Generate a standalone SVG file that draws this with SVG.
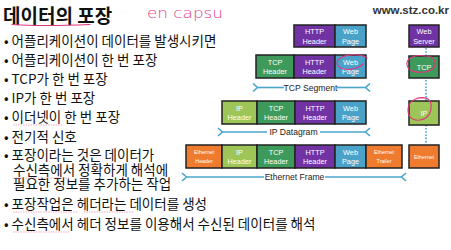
<svg xmlns="http://www.w3.org/2000/svg" width="451" height="250" viewBox="0 0 451 250">
<defs>
<style>
.k{font-family:"Noto Sans CJK KR","Noto Sans",sans-serif;font-size:13.5px;fill:#111}
.t{font-family:"Noto Sans CJK KR","Noto Sans",sans-serif;font-size:19px;font-weight:bold;fill:#111}
.b{stroke:#222;stroke-width:1.5}
.http{fill:#7132a4}.web{fill:#4aa2c9}.tcp{fill:#3e9a5b}.ip{fill:#9dc558}.eth{fill:#ee7b2e}
.bt{font-family:"Liberation Sans",Arial,sans-serif;font-size:7.3px;fill:#fff;text-anchor:middle}
.st{font-family:"Liberation Sans",Arial,sans-serif;font-size:5.3px;fill:#fff;text-anchor:middle}
.lbl{font-family:"Liberation Sans",Arial,sans-serif;font-size:8.6px;fill:#222;text-anchor:middle}
.ar{stroke:#4aa6cc;stroke-width:1.6;fill:none}
.pk{stroke:#e0357f;stroke-width:1.1;fill:none;stroke-linecap:round}
.sq{stroke:#e86a8a;stroke-width:0.7;fill:none;stroke-dasharray:1.5 1;opacity:0.8}
</style>
<marker id="ch" markerWidth="8" markerHeight="10" refX="1" refY="5" orient="auto-start-reverse" markerUnits="userSpaceOnUse">
<path d="M6,1 L1.5,5 L6,9" fill="none" stroke="#4aa6cc" stroke-width="1.6"/>
</marker>
</defs>
<rect width="451" height="250" fill="#fff"/>

<g id="title">
<text class="t" x="3" y="22.5">데이터의 포장</text>
<path class="pk" d="M12,24.5 C35,26 65,25.5 90,24.5"/>
<text x="147" y="18" font-family="DejaVu Sans,sans-serif" font-size="14" fill="#e0408a" textLength="76" lengthAdjust="spacingAndGlyphs" font-weight="300">en capsu</text>
<text x="449" y="14" text-anchor="end" font-family="Liberation Sans,Arial,sans-serif" font-size="11.5" font-weight="bold" fill="#333">www.stz.co.kr</text>
</g>

<g id="bullets">
<text class="k" x="4" y="46">• 어플리케이션이 데이터를 발생시키면</text>
<text class="k" x="4" y="65">• 어플리케이션이 한 번 포장</text>
<text class="k" x="4" y="84">• TCP가 한 번 포장</text>
<text class="k" x="4" y="103">• IP가 한 번 포장</text>
<text class="k" x="4" y="122">• 이더넷이 한 번 포장</text>
<text class="k" x="4" y="142">• 전기적 신호</text>
<text class="k" x="4" y="160">• 포장이라는 것은 데이터가<tspan x="13" y="175">수신측에서 정확하게 해석에</tspan><tspan x="13" y="189">필요한 정보를 추가하는 작업</tspan></text>
<text class="k" x="4" y="209">• 포장작업은 헤더라는 데이터를 생성</text>
<text class="k" x="4" y="229">• 수신측에서 헤더 정보를 이용해서 수신된 데이터를 해석</text>
<path class="sq" d="M13,125 H62 M13,178 H69 M13,212 H78 M84,212 H134 M13,232 H69"/>
</g>

<g id="row-app">
<rect class="b http" x="294" y="25" width="41" height="22"/>
<text class="bt" x="314.5" y="34">HTTP</text><text class="bt" x="314.5" y="43.5">Header</text>
<rect class="b web" x="335" y="25" width="31" height="22"/>
<text class="bt" x="350.5" y="34">Web</text><text class="bt" x="350.5" y="43.5">Page</text>
</g>

<g id="row-tcp">
<rect class="b tcp" x="256" y="55" width="38" height="23"/>
<text class="bt" x="275" y="64.5">TCP</text><text class="bt" x="275" y="74">Header</text>
<rect class="b http" x="294" y="55" width="41" height="23"/>
<text class="bt" x="314.5" y="64.5">HTTP</text><text class="bt" x="314.5" y="74">Header</text>
<rect class="b web" x="335" y="55" width="31" height="23"/>
<text class="bt" x="350.5" y="64.5">Web</text><text class="bt" x="350.5" y="74">Page</text>
<path class="pk" d="M367,58 C360,53 343,54 338,60 C334,66 342,71 352,69 C357,68 361,66 363,64"/>
</g>

<g id="row-ip">
<rect class="b ip" x="222" y="101" width="35" height="23"/>
<text class="bt" x="239.5" y="110.5">IP</text><text class="bt" x="239.5" y="120">Header</text>
<rect class="b tcp" x="257" y="101" width="38" height="23"/>
<text class="bt" x="276" y="110.5">TCP</text><text class="bt" x="276" y="120">Header</text>
<rect class="b http" x="295" y="101" width="40" height="23"/>
<text class="bt" x="315" y="110.5">HTTP</text><text class="bt" x="315" y="120">Header</text>
<rect class="b web" x="335" y="101" width="31" height="23"/>
<text class="bt" x="350.5" y="110.5">Web</text><text class="bt" x="350.5" y="120">Page</text>
</g>

<g id="row-eth">
<rect class="b eth" x="186" y="145" width="36" height="23"/>
<text class="st" x="204" y="154">Ethernet</text><text class="st" x="204" y="163">Header</text>
<rect class="b ip" x="222" y="145" width="35" height="23"/>
<text class="bt" x="239.5" y="154.5">IP</text><text class="bt" x="239.5" y="164">Header</text>
<rect class="b tcp" x="257" y="145" width="38" height="23"/>
<text class="bt" x="276" y="154.5">TCP</text><text class="bt" x="276" y="164">Header</text>
<rect class="b http" x="295" y="145" width="40" height="23"/>
<text class="bt" x="315" y="154.5">HTTP</text><text class="bt" x="315" y="164">Header</text>
<rect class="b web" x="335" y="145" width="31" height="23"/>
<text class="bt" x="350.5" y="154.5">Web</text><text class="bt" x="350.5" y="164">Page</text>
<rect class="b eth" x="366" y="145" width="36" height="23"/>
<text class="st" x="384" y="154">Ethernet</text><text class="st" x="384" y="163">Trailer</text>
</g>

<g id="connectors">
<line x1="426" y1="48" x2="426" y2="144" stroke="#4aa6cc" stroke-width="1.6" stroke-dasharray="1.6 1.6"/>
<line class="ar" x1="258" y1="87.5" x2="284" y2="87.5" marker-start="url(#ch)"/>
<line class="ar" x1="337" y1="87.5" x2="365" y2="87.5" marker-end="url(#ch)"/>
<line class="ar" x1="223" y1="132" x2="267" y2="132" marker-start="url(#ch)"/>
<line class="ar" x1="320" y1="132" x2="365" y2="132" marker-end="url(#ch)"/>
<line class="ar" x1="187" y1="177" x2="264" y2="177" marker-start="url(#ch)"/>
<line class="ar" x1="325" y1="177" x2="401" y2="177" marker-end="url(#ch)"/>
</g>
<g id="labels">
<text class="lbl" x="310.5" y="90.5">TCP Segment</text>
<text class="lbl" x="293.5" y="135">IP Datagram</text>
<text class="lbl" x="294.5" y="180">Ethernet Frame</text>
</g>

<g id="node-webserver">
<rect class="b http" x="409" y="25" width="30" height="22"/>
<text class="bt" x="424" y="34">Web</text><text class="bt" x="424" y="43.5">Server</text>
</g>
<g id="node-tcp">
<rect class="b tcp" x="409" y="56" width="30" height="22"/>
<text class="bt" x="424" y="69.5">TCP</text>
<path class="pk" d="M425,56 C413,54 406,59 407,65 C408,71 416,73 424,72 C432,71 436,67 435,62 C434,58 430,56 426,56"/>
</g>
<g id="node-ip">
<rect class="b ip" x="409" y="101" width="30" height="24"/>
<text class="bt" x="424" y="115.5">IP</text>
<path class="pk" d="M428,99 C418,95 408,101 408,110 C408,118 414,121 420,120 C428,119 432,112 431,104 C430,99 426,97 422,98"/>
</g>
<g id="node-eth">
<rect class="b eth" x="409" y="145" width="30" height="23"/>
<text class="st" x="424" y="158.5">Ethernet</text>
</g>
</svg>
